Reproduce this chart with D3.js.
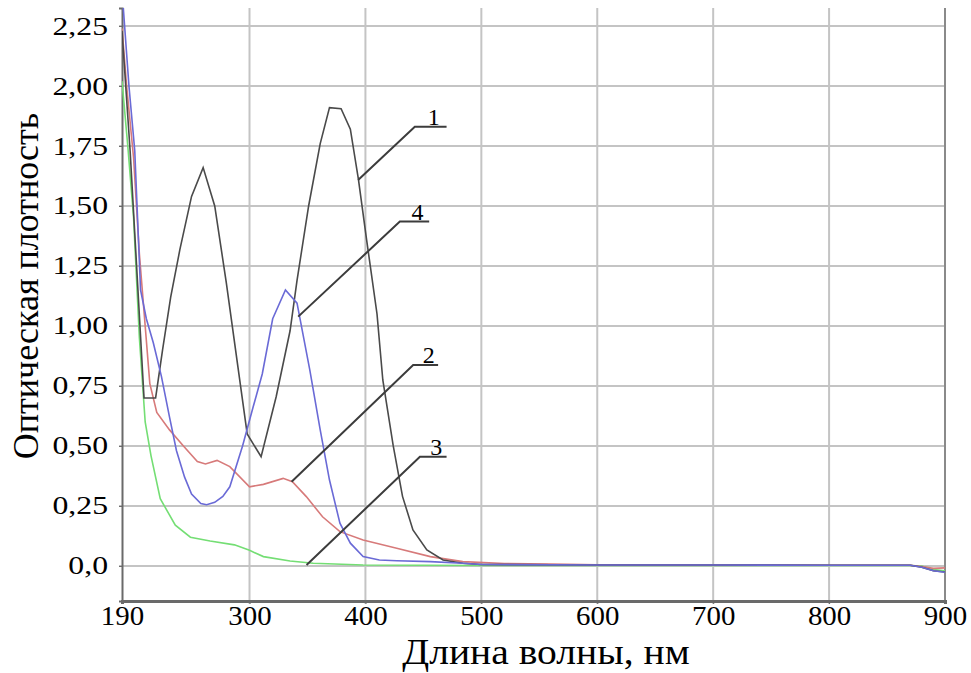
<!DOCTYPE html>
<html>
<head>
<meta charset="utf-8">
<script src="https://cdn.jsdelivr.net/npm/d3@7"></script>
<style>
  body { margin: 0; background: #fff; }
  text { font-family: "Liberation Serif", "DejaVu Serif", serif; fill: #000; }
</style>
</head>
<body>
<div id="chart"></div>
<script>
// Spectra data (wavelength, nm / optical density)
const nm1 = [190, 197, 209, 219, 225, 232, 240, 250, 260, 270, 280, 290, 298, 310, 323, 335, 341, 351, 361, 369, 379, 387, 394, 401, 410, 415, 424, 432, 441, 453, 467, 484, 500, 600, 700, 800, 870, 880, 890, 900];
const od1 = [2.23, 1.73, 0.70, 0.70, 0.90, 1.12, 1.32, 1.54, 1.66, 1.50, 1.18, 0.83, 0.55, 0.455, 0.705, 0.98, 1.19, 1.50, 1.76, 1.91, 1.905, 1.82, 1.61, 1.36, 1.05, 0.775, 0.50, 0.29, 0.15, 0.067, 0.025, 0.011, 0.006, 0.004, 0.004, 0.003, 0.003, -0.005, -0.02, -0.025];

const nm2 = [190, 194, 200, 205, 214, 220, 231, 243, 255, 262, 272, 283, 300, 312, 329, 337, 349, 363, 378, 398, 427, 456, 484, 520, 560, 600, 700, 800, 870, 880, 890, 900];
const od2 = [2.24, 2.00, 1.70, 1.30, 0.76, 0.64, 0.567, 0.50, 0.435, 0.425, 0.44, 0.414, 0.33, 0.34, 0.365, 0.351, 0.289, 0.205, 0.143, 0.108, 0.074, 0.039, 0.018, 0.01, 0.008, 0.005, 0.004, 0.003, 0.003, -0.002, -0.01, -0.008];

const nm3 = [190, 195, 200, 205, 210, 215, 223, 236, 249, 266, 287, 300, 312, 335, 355, 398, 450, 500, 600, 700, 800, 870, 880, 890, 900];
const od3 = [2.02, 1.75, 1.45, 0.95, 0.60, 0.46, 0.28, 0.17, 0.12, 0.104, 0.088, 0.065, 0.039, 0.021, 0.011, 0.004, 0.003, 0.002, 0.002, 0.002, 0.002, 0.002, 0.0, -0.015, -0.02];

const nm4 = [190, 196, 201, 206, 211, 217, 224, 231, 237, 244, 250, 258, 263, 270, 277, 283, 294, 303, 311, 320, 331, 341, 352, 361, 369, 378, 387, 398, 412, 427, 456, 484, 500, 600, 700, 800, 870, 880, 890, 900];
const od4 = [2.40, 2.00, 1.73, 1.15, 1.03, 0.93, 0.79, 0.62, 0.48, 0.37, 0.30, 0.26, 0.255, 0.265, 0.29, 0.33, 0.50, 0.66, 0.80, 1.03, 1.15, 1.095, 0.817, 0.567, 0.358, 0.178, 0.095, 0.039, 0.025, 0.022, 0.018, 0.011, 0.006, 0.004, 0.004, 0.003, 0.003, -0.005, -0.02, -0.026];

const seriesColors = ["#4a4a4a", "#d77a7a", "#74de74", "#6a6ad6"];

// Axis ticks
const xTicks = [190, 300, 400, 500, 600, 700, 800, 900];
const yTicks = [0, 0.25, 0.5, 0.75, 1, 1.25, 1.5, 1.75, 2, 2.25];

// Curve labels: name, point on curve, elbow of the leader, end of the shelf (nm / OD)
const labelNames = ["1", "4", "2", "3"];
const labelAnchors = [[393.7, 1.608], [342, 1.039], [336.3, 0.351], [349.2, 0.004]];
const labelElbows = [[442.6, 1.83], [429.7, 1.435], [441.2, 0.8375], [447, 0.455]];
const labelEnds = [470, 455, 462.7, 470];

const W = 971, H = 673;
const plot = {left: 122, right: 945, top: 8, bottom: 601};

const svg = d3.select("#chart")
  .append("svg")
    .attr("width", W)
    .attr("height", H);

const x = d3.scaleLinear()
  .domain([190, 900])
  .range([plot.left, plot.right]);

const y = d3.scaleLinear()
  .domain([-0.146, 2.325])
  .range([plot.bottom, plot.top]);

// Gridlines
svg.append("g")
  .selectAll("line")
  .data(yTicks)
  .enter()
  .append("line")
    .attr("x1", plot.left - 3)
    .attr("x2", plot.right)
    .attr("y1", d => y(d))
    .attr("y2", d => y(d))
    .attr("stroke", "#c4c4c4")
    .attr("stroke-width", 2);

svg.append("g")
  .selectAll("line")
  .data(xTicks.slice(1, -1))
  .enter()
  .append("line")
    .attr("x1", d => x(d))
    .attr("x2", d => x(d))
    .attr("y1", plot.top)
    .attr("y2", plot.bottom + 3)
    .attr("stroke", "#c4c4c4")
    .attr("stroke-width", 2);

// Right border
svg.append("line")
  .attr("x1", plot.right).attr("x2", plot.right)
  .attr("y1", plot.top).attr("y2", plot.bottom)
  .attr("stroke", "#8a8a8a")
  .attr("stroke-width", 2);

// Y axis
const fmtY = d => d === 0 ? "0,0" : d3.format(".2f")(d).replace(".", ",");
const yAxis = svg.append("g")
  .attr("transform", `translate(${plot.left},0)`)
  .call(d3.axisLeft(y).tickValues(yTicks).tickFormat(fmtY).tickSize(3).tickPadding(8));
yAxis.select(".domain").attr("stroke", "#6a6a6a").attr("stroke-width", 2);
yAxis.selectAll(".tick line").attr("stroke", "#6a6a6a");
yAxis.selectAll("text")
  .style("font-family", "Liberation Serif, serif")
  .style("font-size", "25px")
  .attr("transform", "scale(1.27,1)");

// X axis
const xAxis = svg.append("g")
  .attr("transform", `translate(0,${plot.bottom})`)
  .call(d3.axisBottom(x).tickValues(xTicks).tickSize(3).tickPadding(2));
xAxis.select(".domain").attr("stroke", "#6a6a6a").attr("stroke-width", 3);
xAxis.selectAll(".tick line").attr("stroke", "#6a6a6a");
xAxis.selectAll("text")
  .style("font-family", "Liberation Serif, serif")
  .style("font-size", "27px")
  .attr("transform", "scale(1.07,1)");

// Keep curves inside the plot
svg.append("clipPath")
  .attr("id", "clip")
  .append("rect")
    .attr("x", plot.left)
    .attr("y", plot.top)
    .attr("width", plot.right - plot.left)
    .attr("height", plot.bottom - plot.top);

const line = d3.line()
  .x(d => x(d[0]))
  .y(d => y(d[1]));

const series = [
  d3.zip(nm3, od3),
  d3.zip(nm2, od2),
  d3.zip(nm1, od1),
  d3.zip(nm4, od4)
];
const order = [2, 1, 0, 3];

svg.append("g")
  .attr("clip-path", "url(#clip)")
  .selectAll("path")
  .data(series)
  .enter()
  .append("path")
    .attr("d", line)
    .attr("fill", "none")
    .attr("stroke", (d, i) => seriesColors[order[i]])
    .attr("stroke-width", 1.6);

// Leader lines and curve numbers
labelNames.forEach((name, i) => {
  const a = labelAnchors[i], e = labelElbows[i];
  svg.append("polyline")
    .attr("points", [[x(a[0]), y(a[1])], [x(e[0]), y(e[1])], [x(labelEnds[i]), y(e[1])]].join(" "))
    .attr("fill", "none")
    .attr("stroke", "#3c3c3c")
    .attr("stroke-width", 2);
  svg.append("text")
    .attr("x", (x(e[0]) + x(labelEnds[i])) / 2 + 3)
    .attr("y", y(e[1]) - 2)
    .attr("text-anchor", "middle")
    .style("font-size", "24px")
    .text(name);
});

// Axis titles
svg.append("text")
  .attr("transform", "translate(546,664) scale(1.13,1)")
  .attr("text-anchor", "middle")
  .style("font-size", "35px")
  .text("Длина волны, нм");

svg.append("text")
  .attr("transform", "translate(38,286) rotate(-90)")
  .attr("text-anchor", "middle")
  .style("font-size", "36px")
  .text("Оптическая плотность");
</script>
</body>
</html>
